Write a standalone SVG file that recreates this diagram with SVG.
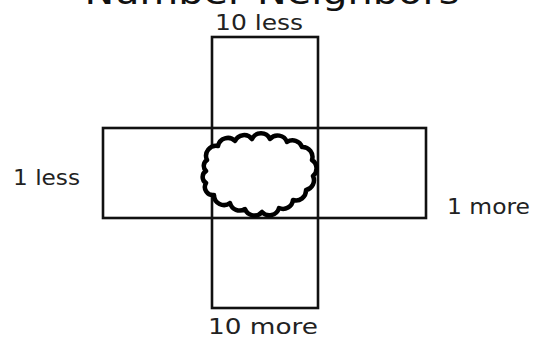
<svg xmlns="http://www.w3.org/2000/svg" width="542" height="338" viewBox="0 0 542 338">
<style>
.box{fill:none;stroke:#111;stroke-width:2.6}
.lbl{font-family:"DejaVu Sans","Liberation Sans",sans-serif;font-size:22px;fill:#222}
.title{font-family:"DejaVu Sans","Liberation Sans",sans-serif;font-size:34px;fill:#111}
.cloud{fill:#fff;stroke:#000;stroke-width:4.5;stroke-linejoin:round}
</style>
<rect width="542" height="338" fill="#fff"/>
<text class="title" x="272" y="4" text-anchor="middle" textLength="375" lengthAdjust="spacingAndGlyphs">Number Neighbors</text>
<g id="connectors"></g>
<g id="vertical-box"><rect class="box" x="212" y="37" width="106" height="271"/></g>
<g id="horizontal-box"><rect class="box" x="103" y="128" width="323" height="90"/></g>
<g id="cloud"><path class="cloud" d="M207,160 A10,10 0 0 1 218,146 A10,10 0 0 1 235,141 A10,10 0 0 1 252,139 A10,10 0 0 1 270,139 A10,10 0 0 1 287,142 A10,10 0 0 1 302,147 A10,10 0 0 1 312,160 A10,10 0 0 1 313,176 A10,10 0 0 1 306,190 A10,10 0 0 1 293,200 A10,10 0 0 1 279,208 A10,10 0 0 1 262,212 A10,10 0 0 1 245,209 A10,10 0 0 1 230,203 A10,10 0 0 1 214,195 A8,8 0 0 1 206,183 A7,7 0 0 1 206,171 A7,7 0 0 1 207,160 Z"/></g>
<g id="label-10-less"><text class="lbl" x="215" y="30" textLength="88" lengthAdjust="spacingAndGlyphs">10 less</text></g>
<g id="label-1-less"><text class="lbl" x="13" y="185" textLength="67" lengthAdjust="spacingAndGlyphs">1 less</text></g>
<g id="label-1-more"><text class="lbl" x="447" y="214" textLength="83" lengthAdjust="spacingAndGlyphs">1 more</text></g>
<g id="label-10-more"><text class="lbl" x="208" y="334" textLength="110" lengthAdjust="spacingAndGlyphs">10 more</text></g>
</svg>
